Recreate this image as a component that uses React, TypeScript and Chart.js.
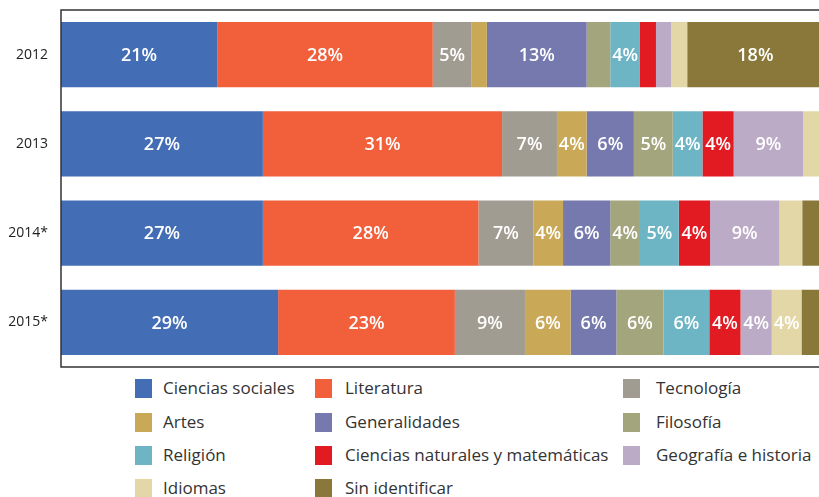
import React, { useEffect, useRef } from "react";
import { Chart, registerables } from "chart.js";

Chart.register(...registerables);

const years = ["2012", "2013", "2014*", "2015*"];

const seriesNames = [
  "Ciencias sociales",
  "Literatura",
  "Tecnología",
  "Artes",
  "Generalidades",
  "Filosofía",
  "Religión",
  "Ciencias naturales y matemáticas",
  "Geografía e historia",
  "Idiomas",
  "Sin identificar",
];

const cienciasSociales = [20.5, 26.5, 26.5, 28.5];
const literatura = [28.3, 31.4, 28.3, 23.2];
const tecnologia = [5.1, 7.2, 7.2, 9.2];
const artes = [2.0, 3.9, 3.9, 6.0];
const generalidades = [13.1, 6.2, 6.2, 6.0];
const filosofia = [3.1, 5.1, 3.9, 6.2];
const religion = [3.9, 3.9, 5.1, 6.0];
const cienciasNaturales = [2.1, 4.1, 4.1, 4.1];
const geografia = [2.0, 9.1, 9.1, 4.1];
const idiomas = [2.1, 2.4, 3.0, 3.9];
const sinIdentificar = [17.9, 1.5, 2.9, 2.9];

const seriesValues = [
  cienciasSociales,
  literatura,
  tecnologia,
  artes,
  generalidades,
  filosofia,
  religion,
  cienciasNaturales,
  geografia,
  idiomas,
  sinIdentificar,
];

const colors = [
  "#436db5",
  "#f15f3b",
  "#a19c91",
  "#c9a957",
  "#7579ae",
  "#a3a57d",
  "#6db5c4",
  "#e21b23",
  "#bbabc6",
  "#e3d7a8",
  "#8a783a",
];

const labelPlugin = {
  id: "segLabels",
  afterDatasetsDraw(chart: any) {
    const ctx = chart.ctx;
    ctx.save();
    ctx.fillStyle = "#ffffff";
    ctx.font = "600 18px 'Open Sans', sans-serif";
    ctx.textAlign = "center";
    ctx.textBaseline = "middle";
    chart.data.datasets.forEach((ds: any, di: number) => {
      const meta = chart.getDatasetMeta(di);
      meta.data.forEach((el: any, i: number) => {
        const v = ds.data[i];
        if (v >= 3.5) {
          const cx = (el.x + el.base) / 2;
          ctx.fillText(Math.round(v) + "%", cx, el.y + 1);
        }
      });
    });
    ctx.restore();
  },
};

const framePlugin = {
  id: "frame",
  afterDraw(chart: any) {
    const { ctx, chartArea } = chart;
    ctx.save();
    ctx.strokeStyle = "#333333";
    ctx.lineWidth = 1.5;
    ctx.beginPath();
    ctx.moveTo(chart.width + 5, chartArea.top);
    ctx.lineTo(chartArea.left, chartArea.top);
    ctx.lineTo(chartArea.left, chartArea.bottom);
    ctx.lineTo(chart.width + 5, chartArea.bottom);
    ctx.stroke();
    ctx.restore();
  },
};

export default function App() {
  const ref = useRef<HTMLCanvasElement | null>(null);

  useEffect(() => {
    if (!ref.current) return;
    const chart = new Chart(ref.current, {
      type: "bar",
      data: {
        labels: years,
        datasets: seriesNames.map((name, i) => ({
          label: name,
          data: seriesValues[i],
          backgroundColor: colors[i],
          borderWidth: 0,
          barPercentage: 0.73,
          categoryPercentage: 1,
        })),
      },
      options: {
        indexAxis: "y",
        animation: false,
        responsive: false,
        devicePixelRatio: 1,
        layout: { padding: { top: 10, bottom: 3, left: 0, right: 0 } },
        plugins: {
          legend: { display: false },
          tooltip: { enabled: false },
        },
        scales: {
          x: {
            stacked: true,
            display: false,
            min: 0,
            max: 99.5,
          },
          y: {
            stacked: true,
            grid: { display: false, drawTicks: false },
            border: { display: false },
            ticks: {
              color: "#222222",
              font: { family: "'Open Sans', sans-serif", size: 14 },
              padding: 13,
            },
            afterFit(scale: any) {
              scale.width = 61;
              scale.paddingTop = 0;
              scale.paddingBottom = 0;
            },
          },
        },
      },
      plugins: [labelPlugin, framePlugin],
    });
    return () => chart.destroy();
  }, []);

  const legendCols = [
    { box: 135, text: 163 },
    { box: 315, text: 345 },
    { box: 623, text: 656 },
  ];
  const rowY = [388, 422, 455, 488];

  return (
    <div
      style={{
        position: "fixed",
        left: 0,
        top: 0,
        width: 819,
        height: 497,
        overflow: "hidden",
        background: "#ffffff",
      }}
    >
      <canvas ref={ref} width={819} height={370} style={{ display: "block" }} />
      {seriesNames.map((name, i) => {
        const col = legendCols[i % 3];
        const y = rowY[Math.floor(i / 3)];
        return (
          <React.Fragment key={name}>
            <div
              style={{
                position: "absolute",
                left: col.box,
                top: y - 9,
                width: 17,
                height: 19,
                background: colors[i],
              }}
            />
            <div
              style={{
                position: "absolute",
                left: col.text,
                top: y - 12,
                height: 24,
                lineHeight: "24px",
                fontFamily: "'Open Sans', sans-serif",
                fontSize: 17,
                color: "#333333",
                whiteSpace: "nowrap",
              }}
            >
              {name}
            </div>
          </React.Fragment>
        );
      })}
    </div>
  );
}
